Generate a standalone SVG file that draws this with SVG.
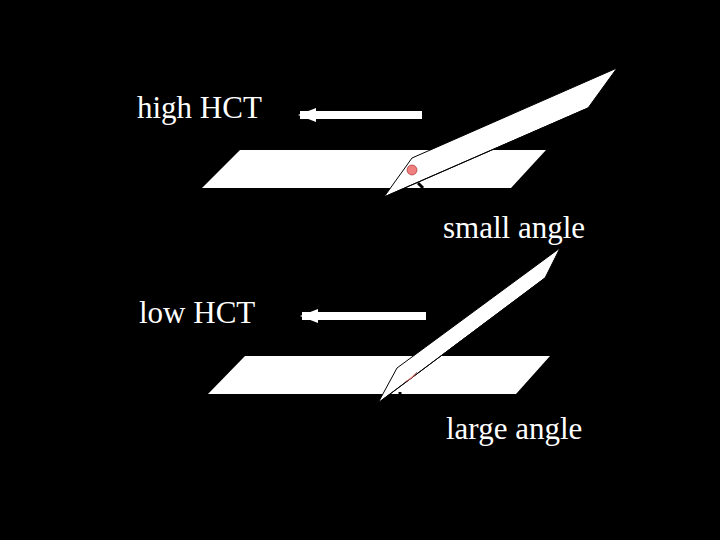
<svg xmlns="http://www.w3.org/2000/svg" width="720" height="540" viewBox="0 0 720 540">
<style>
.t{font-family:"Liberation Serif",serif;font-size:31px;fill:#fff}
.w{fill:#fff;stroke:#000;stroke-width:1}
.p{fill:#fff}
</style>
<defs><marker id="a" markerUnits="userSpaceOnUse" markerWidth="18" markerHeight="14" refX="2" refY="7" orient="auto"><path d="M18,0 L0,7 L18,14Z" fill="#fff"/></marker></defs>
<rect width="720" height="540" fill="#000"/>
<g id="top">
<polygon class="p" points="202,188 240,150 546,150 511,188"/>
<polygon class="w" points="384,197 412,158 617,68 588,108"/>
<line x1="384" y1="197" x2="588" y2="108" stroke="#000"/>
<circle cx="412" cy="170" r="5" fill="#f08080" stroke="#800" stroke-width="0.5"/>
<path d="M418,183 l5,5" stroke="#000" stroke-width="3"/>
</g>
<g id="bottom">
<polygon class="p" points="208,394 245,356 550,356 516,394"/>
<polygon class="w" points="378,403 397,368 560,248 545,278"/>
<line x1="378" y1="403" x2="545" y2="278" stroke="#000"/>
<path d="M405,382 q8,-3 12,-10" fill="#f0a0a0" stroke="#800" stroke-width="0.5"/>
<path d="M400,392 l0,5" stroke="#000" stroke-width="3"/>
</g>
<g id="connectors">
<line x1="300" y1="115" x2="422" y2="115" stroke="#fff" stroke-width="8" marker-start="url(#a)"/>
<line x1="302" y1="316" x2="426" y2="316" stroke="#fff" stroke-width="8" marker-start="url(#a)"/>
</g>
<text class="t" x="137" y="118">high HCT</text>
<text class="t" x="443" y="238">small angle</text>
<text class="t" x="139" y="323">low HCT</text>
<text class="t" x="446" y="439">large angle</text>
</svg>
